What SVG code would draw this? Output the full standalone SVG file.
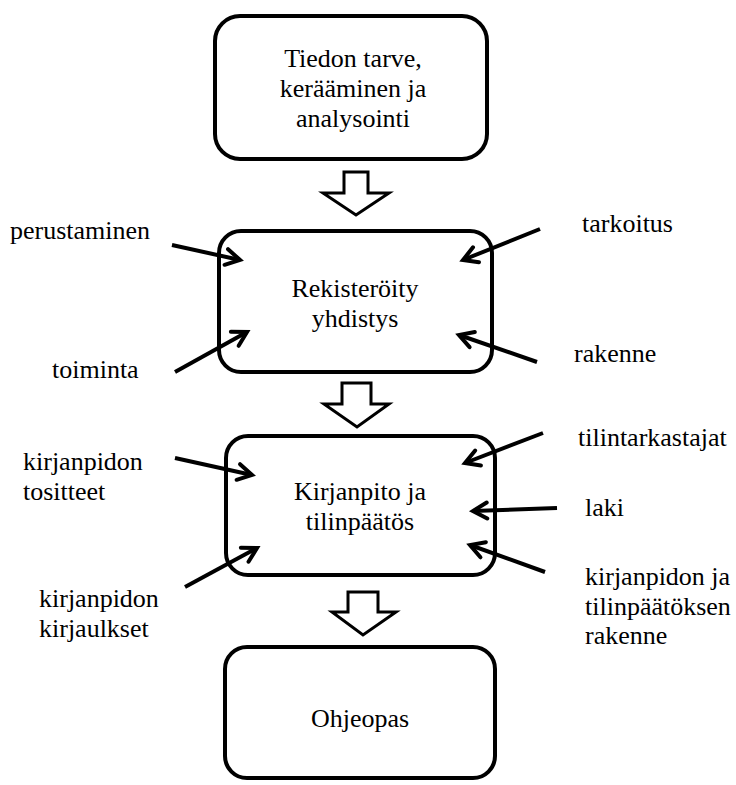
<svg xmlns="http://www.w3.org/2000/svg" width="736" height="785" viewBox="0 0 736 785">
<style>
.box{fill:#fff;stroke:#000;stroke-width:4}
.blk{fill:#fff;stroke:#000;stroke-width:3;stroke-linejoin:miter}
.con{fill:none;stroke:#000;stroke-width:4}
text{font-family:"Liberation Serif","Times New Roman",serif;font-size:26px;fill:#000}
.c{text-anchor:middle}
</style>
<defs>
<marker id="ah" viewBox="-2 -2 24 24" refX="16" refY="10" markerWidth="24" markerHeight="24" markerUnits="userSpaceOnUse" orient="auto">
<path d="M2,2 L16,10 L2,18" fill="none" stroke="#000" stroke-width="4" stroke-linecap="round" stroke-linejoin="miter"/>
</marker>
</defs>
<rect width="736" height="785" fill="#fff"/>
<g id="n1">
<rect class="box" x="215" y="16" width="272" height="143" rx="25"/>
<text class="c" x="353" y="67">Tiedon tarve,</text>
<text class="c" x="353" y="97">kerääminen ja</text>
<text class="c" x="353" y="127">analysointi</text>
</g>
<g id="n2">
<rect class="box" x="219" y="231" width="273" height="141" rx="22"/>
<text class="c" x="355" y="297">Rekisteröity</text>
<text class="c" x="355" y="327">yhdistys</text>
</g>
<g id="n3">
<rect class="box" x="226" y="436" width="269" height="139" rx="22"/>
<text class="c" x="360" y="500">Kirjanpito ja</text>
<text class="c" x="360" y="530">tilinpäätös</text>
</g>
<g id="n4">
<rect class="box" x="225" y="647" width="270" height="131" rx="22"/>
<text class="c" x="360" y="727">Ohjeopas</text>
</g>
<g id="labels">
<text x="10" y="239">perustaminen</text>
<text x="52" y="378">toiminta</text>
<text x="582" y="232">tarkoitus</text>
<text x="574" y="362">rakenne</text>
<text x="23" y="470">kirjanpidon</text>
<text x="23" y="500">tositteet</text>
<text x="39" y="607">kirjanpidon</text>
<text x="39" y="637">kirjaulkset</text>
<text x="578" y="446">tilintarkastajat</text>
<text x="585" y="516">laki</text>
<text x="585" y="585">kirjanpidon ja</text>
<text x="585" y="615">tilinpäätöksen</text>
<text x="585" y="644">rakenne</text>
</g>
<g id="connectors">
<polygon class="blk" points="344,172 368,172 368,193 389,193 356,215 323,193 344,193"/>
<polygon class="blk" points="342,383 371,383 371,404 389,404 357,427 324,404 342,404"/>
<polygon class="blk" points="348,592 378,592 378,612 396,612 363,635 332,612 348,612"/>
<line class="con" x1="172" y1="245" x2="240" y2="260" marker-end="url(#ah)"/>
<line class="con" x1="175" y1="372" x2="247" y2="332" marker-end="url(#ah)"/>
<line class="con" x1="540" y1="229" x2="463" y2="260" marker-end="url(#ah)"/>
<line class="con" x1="537" y1="362" x2="459" y2="335" marker-end="url(#ah)"/>
<line class="con" x1="175" y1="458" x2="252" y2="475" marker-end="url(#ah)"/>
<line class="con" x1="185" y1="587" x2="257" y2="548" marker-end="url(#ah)"/>
<line class="con" x1="543" y1="433" x2="465" y2="463" marker-end="url(#ah)"/>
<line class="con" x1="557" y1="508" x2="473" y2="511" marker-end="url(#ah)"/>
<line class="con" x1="545" y1="572" x2="470" y2="545" marker-end="url(#ah)"/>
</g>
</svg>
